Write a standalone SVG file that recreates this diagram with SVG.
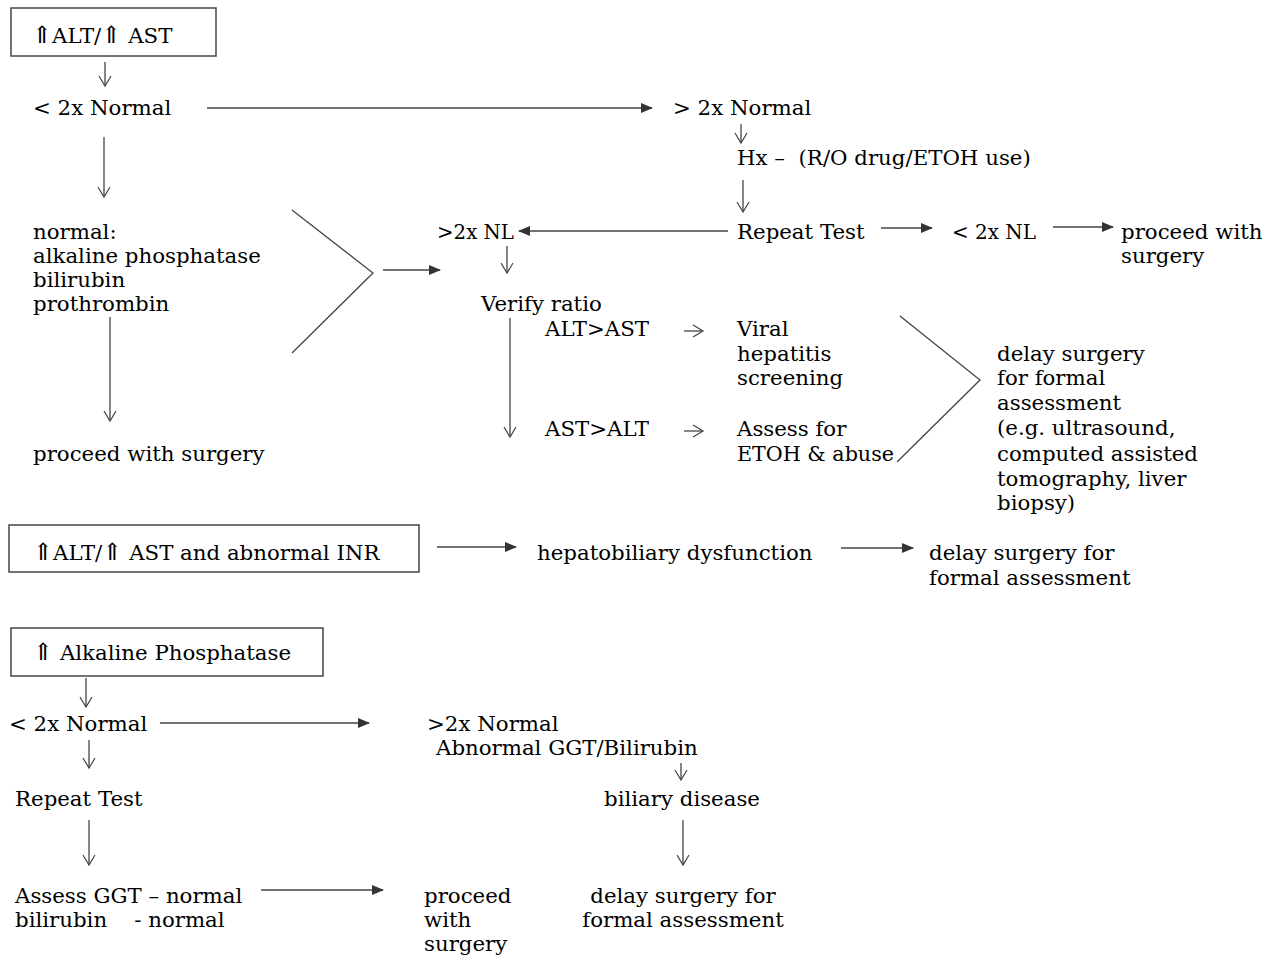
<svg xmlns="http://www.w3.org/2000/svg" width="1273" height="958" viewBox="0 0 1273 958">
<defs>
<marker id="fa" markerWidth="12" markerHeight="10" refX="11" refY="5" orient="auto" markerUnits="userSpaceOnUse"><path d="M0,0 L12,5 L0,10 Z" fill="#333"/></marker>
<marker id="od" markerWidth="14" markerHeight="14" refX="12" refY="7" orient="auto" markerUnits="userSpaceOnUse" viewBox="0 0 14 14"><path d="M2,1 L12,7 L2,13" fill="none" stroke="#444" stroke-width="1.2"/></marker>
</defs>
<style>
text{font-family:"DejaVu Serif","Liberation Serif",serif;font-size:21.3px;fill:#000}
.up{font-size:24px}
.box{fill:none;stroke:#444;stroke-width:1.5}
.c line,.c polyline{stroke:#444;stroke-width:1.3;fill:none}
.f{marker-end:url(#fa)}
.d{marker-end:url(#od)}
</style>
<rect width="1273" height="958" fill="#fff"/>
<g id="n-altast"><rect class="box" x="11" y="8" width="205" height="48"/><text x="32" y="43"><tspan class="up">⇑</tspan>ALT/<tspan class="up">⇑</tspan> AST</text></g>
<g id="n-lt2x"><text x="33" y="115">&lt; 2x Normal</text></g>
<g id="n-gt2x"><text x="673" y="115">&gt; 2x Normal</text></g>
<g id="n-hx"><text x="737" y="165" xml:space="preserve">Hx –  (R/O drug/ETOH use)</text></g>
<g id="n-repeat"><text x="737" y="239">Repeat Test</text></g>
<g id="n-lt2nl"><text x="952" y="239" textLength="84" lengthAdjust="spacingAndGlyphs">&lt; 2x NL</text></g>
<g id="n-proceed1"><text x="1121" y="239">proceed with</text><text x="1121" y="263">surgery</text></g>
<g id="n-gt2nl"><text x="437" y="239" textLength="77" lengthAdjust="spacingAndGlyphs">&gt;2x NL</text></g>
<g id="n-verify"><text x="481" y="311">Verify ratio</text></g>
<g id="n-altgt"><text x="545" y="336">ALT&gt;AST</text></g>
<g id="n-astgt"><text x="545" y="436">AST&gt;ALT</text></g>
<g id="n-viral"><text x="737" y="336">Viral</text><text x="737" y="361">hepatitis</text><text x="737" y="385">screening</text></g>
<g id="n-etoh"><text x="737" y="436">Assess for</text><text x="737" y="461" textLength="157" lengthAdjust="spacingAndGlyphs">ETOH &amp; abuse</text></g>
<g id="n-delay1"><text x="997" y="361">delay surgery</text><text x="997" y="385">for formal</text><text x="997" y="410">assessment</text><text x="997" y="435">(e.g. ultrasound,</text><text x="997" y="461">computed assisted</text><text x="997" y="486">tomography, liver</text><text x="997" y="510">biopsy)</text></g>
<g id="n-normal"><text x="33" y="239">normal:</text><text x="33" y="263">alkaline phosphatase</text><text x="33" y="287">bilirubin</text><text x="33" y="311">prothrombin</text></g>
<g id="n-proceed2"><text x="33" y="461">proceed with surgery</text></g>
<g id="n-inr"><rect class="box" x="9" y="525" width="410" height="47"/><text x="33" y="560"><tspan class="up">⇑</tspan>ALT/<tspan class="up">⇑</tspan> AST and abnormal INR</text></g>
<g id="n-hepato"><text x="537" y="560">hepatobiliary dysfunction</text></g>
<g id="n-delay2"><text x="929" y="560">delay surgery for</text><text x="929" y="585">formal assessment</text></g>
<g id="n-alkp"><rect class="box" x="11" y="628" width="312" height="48"/><text x="33" y="660"><tspan class="up">⇑</tspan> Alkaline Phosphatase</text></g>
<g id="n-lt2x2"><text x="9" y="731">&lt; 2x Normal</text></g>
<g id="n-gt2x2"><text x="427" y="731">&gt;2x Normal</text><text x="436" y="755">Abnormal GGT/Bilirubin</text></g>
<g id="n-biliary"><text x="604" y="806">biliary disease</text></g>
<g id="n-repeat2"><text x="15" y="806">Repeat Test</text></g>
<g id="n-assess"><text x="15" y="903">Assess GGT – normal</text><text x="15" y="927" xml:space="preserve">bilirubin    - normal</text></g>
<g id="n-proceed3"><text x="424" y="903">proceed</text><text x="424" y="927">with</text><text x="424" y="951">surgery</text></g>
<g id="n-delay3"><text x="683" y="903" text-anchor="middle">delay surgery for</text><text x="683" y="927" text-anchor="middle">formal assessment</text></g>
<g id="connectors" class="c">
<line class="d" x1="105" y1="62" x2="105" y2="86"/>
<line class="f" x1="207" y1="108" x2="652" y2="108"/>
<line class="d" x1="741" y1="124" x2="741" y2="143"/>
<line class="d" x1="743" y1="180" x2="743" y2="212"/>
<line class="f" x1="728" y1="231" x2="519" y2="231"/>
<line class="f" x1="881" y1="228" x2="932" y2="228"/>
<line class="f" x1="1053" y1="227" x2="1113" y2="227"/>
<line class="d" x1="507" y1="246" x2="507" y2="273"/>
<line class="d" x1="104" y1="137" x2="104" y2="197"/>
<line class="d" x1="110" y1="317" x2="110" y2="421"/>
<polyline points="292,210 373,273 292,353"/>
<line class="f" x1="383" y1="270" x2="440" y2="270"/>
<line class="d" x1="510" y1="318" x2="510" y2="437"/>
<line class="d" x1="684" y1="331" x2="703" y2="331"/>
<line class="d" x1="684" y1="431" x2="703" y2="431"/>
<polyline points="900,316 980,380 897,462"/>
<line class="f" x1="437" y1="547" x2="516" y2="547"/>
<line class="f" x1="841" y1="548" x2="913" y2="548"/>
<line class="d" x1="86" y1="678" x2="86" y2="707"/>
<line class="f" x1="160" y1="723" x2="369" y2="723"/>
<line class="d" x1="681" y1="763" x2="681" y2="780"/>
<line class="d" x1="89" y1="740" x2="89" y2="768"/>
<line class="d" x1="89" y1="820" x2="89" y2="865"/>
<line class="d" x1="683" y1="820" x2="683" y2="865"/>
<line class="f" x1="261" y1="890" x2="383" y2="890"/>
</g>
</svg>
